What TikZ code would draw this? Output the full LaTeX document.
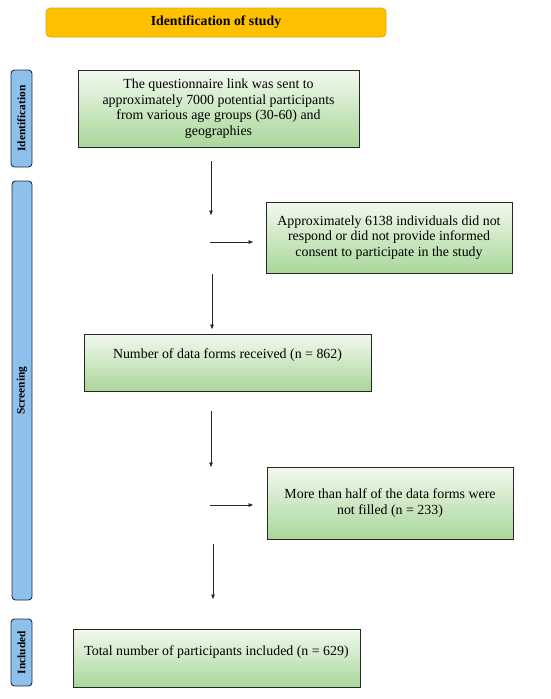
\documentclass[tikz,border=0pt]{standalone}
\usepackage{fontspec}
\setmainfont{Liberation Serif}
\usetikzlibrary{arrows.meta}
\definecolor{orangefill}{HTML}{FFC000}
\definecolor{orangeline}{HTML}{E3A21A}
\definecolor{bluefill}{HTML}{8DC0EA}
\definecolor{blueline}{HTML}{1E2F45}
\definecolor{greentop}{HTML}{F2F9EE}
\definecolor{greenbot}{HTML}{A9D79A}
\tikzset{
  titlebox/.style={draw=orangeline, fill=orangefill, rounded corners=4pt, line width=0.6pt,
    font=\fontsize{13.8}{16}\selectfont\bfseries, inner sep=0pt},
  sidebar/.style={draw=blueline, fill=bluefill, rounded corners=3.5pt, line width=0.9pt,
    inner sep=0pt},
  sidelabel/.style={rotate=90, font=\fontsize{11.4}{13}\selectfont\bfseries, inner sep=0pt},
  greenbox/.style={draw=black!85, line width=0.8pt, top color=greentop, bottom color=greenbot,
    align=center, inner sep=0pt, font=\fontsize{13.9}{15.5}\selectfont},
  arr/.style={-{Triangle[length=4.5pt,width=3.6pt]}, line width=0.5pt, black!85}
}
\begin{document}
\begin{tikzpicture}[x=1pt,y=-1pt]
\useasboundingbox (0,0) rectangle (550,699);
% title
\node[titlebox, minimum width=340pt, minimum height=29pt] (title) at (216,22.5) {Identification of study};
% side bars
\node[sidebar, minimum width=21pt, minimum height=97pt] (bar1) at (21.5,118.5) {};
\node[sidelabel] (lab1) at (bar1.center) {Identification};
\node[sidebar, minimum width=20pt, minimum height=419pt] (bar2) at (22,390.5) {};
\node[sidelabel] (lab2) at (bar2.center) {Screening};
\node[sidebar, minimum width=21pt, minimum height=67pt] (bar3) at (21.5,652.5) {};
\node[sidelabel] (lab3) at (bar3.center) {Included};
% boxes
\node[greenbox, minimum width=281pt, minimum height=77pt] (b1) at (218.5,108.5)
  {The questionnaire link was sent to\\approximately 7000 potential participants\\from various age groups (30-60) and\\geographies};
\node[greenbox, minimum width=246pt, minimum height=71pt] (b2) at (389,237.5)
  {Approximately 6138 individuals did not\\respond or did not provide informed\\consent to participate in the study};
\node[greenbox, minimum width=287pt, minimum height=57pt] (b3) at (227.5,362.5)
  {\raisebox{7.5pt}[\height][\depth]{Number of data forms received (n = 862)}};
\node[greenbox, minimum width=246pt, minimum height=72pt] (b4) at (390,503)
  {More than half of the data forms were\\not filled (n = 233)};
\node[greenbox, minimum width=287pt, minimum height=58pt] (b5) at (216.5,658)
  {\raisebox{6pt}[\height][\depth]{Total number of participants included (n = 629)}};
% arrow end points
\coordinate (a1s) at (211,161);
\coordinate (a1e) at (211,215);
\coordinate (h1s) at (210,242);
\coordinate (h1e) at (253,242);
\coordinate (a2s) at (212,274);
\coordinate (a2e) at (212,329);
\coordinate (a3s) at (211,411);
\coordinate (a3e) at (211,467);
\coordinate (h2s) at (210,505);
\coordinate (h2e) at (253,505);
\coordinate (a4s) at (213,544);
\coordinate (a4e) at (213,599);
\draw[arr] (a1s) -- (a1e);
\draw[arr] (h1s) -- (h1e);
\draw[arr] (a2s) -- (a2e);
\draw[arr] (a3s) -- (a3e);
\draw[arr] (h2s) -- (h2e);
\draw[arr] (a4s) -- (a4e);
\end{tikzpicture}
\end{document}
